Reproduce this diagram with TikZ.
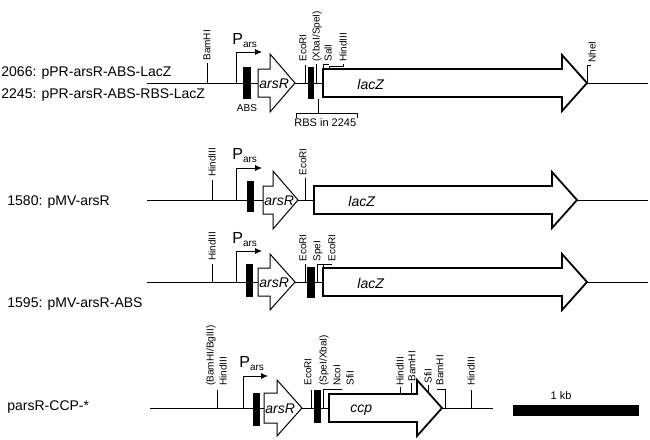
\documentclass[tikz,border=0pt]{standalone}
\usepackage{fontspec}
\setmainfont{Liberation Sans}
\usetikzlibrary{arrows.meta}
\newcommand\sitefont{\fontsize{10}{10}\selectfont}
\newcommand\namefont{\fontsize{14}{14}\selectfont}
\newcommand\Pars{{\fontsize{16}{16}\selectfont P}\raisebox{-3pt}{\fontsize{10}{10}\selectfont ars}}
\tikzset{
  site/.style={rotate=90, anchor=west, inner sep=0pt, font=\sitefont},
  genename/.style={anchor=west, inner sep=0pt, font=\namefont\itshape},
  rowname/.style={anchor=west, inner sep=0pt, font=\namefont},
  prom/.style={line width=0.8pt, -{Latex[length=7pt,width=6pt]}},
  biggene/.style={line width=1.8pt, fill=white, line join=miter},
  smallgene/.style={line width=1pt, fill=white},
}
\begin{document}
\begin{tikzpicture}[x=1pt,y=-1pt,line width=0.8pt]
				\useasboundingbox (0,0) rectangle (650,439);
				
				\node[rowname] (n2066) at (1,73) {2066: pPR-arsR-ABS-LacZ};
				\node[rowname] (n2245) at (1,95) {2245: pPR-arsR-ABS-RBS-LacZ};
				\draw[line width=1pt] (147,83) -- (648,83);
				\draw (207,83) -- (207,63);
				\node[site] (bam1) at (207,61) {BamHI};
				\draw[prom] (236,83) -- (236,52) -- (262,52);
				\node[anchor=base west, inner sep=0pt] (pars1) at (232,44) {\Pars};
				\fill (243,67) rectangle (251,99);
				\node[inner sep=0pt, font=\sitefont] (abs1) at (247,108) {ABS};
				\draw[smallgene] (258,69) -- (270,69) -- (270,54) -- (295,83) -- (270,112) -- (270,97) -- (258,97) -- cycle;
				\node[genename] (arsr1) at (259,84) {arsR};
				\draw (305,83) -- (305,65);
				\node[site] (eco1) at (303,62) {EcoRI};
				\fill (308,67) rectangle (314,99);
				\draw (316,83) -- (316,64);
				\node[site] (xba1) at (317,62) {(XbaI/SpeI)};
				\draw (323,69) -- (323,64) -- (329,64);
				\node[site] (sal1) at (328,62) {SalI};
				\draw (329,69) -- (329,66) -- (343,66) -- (343,64);
				\node[site] (hind1) at (343,62) {HindIII};
				\draw[biggene] (323,69) -- (562,69) -- (562,55) -- (587,83) -- (562,111) -- (562,97) -- (323,97) -- cycle;
				\node[genename] (lacz1) at (357,84) {lacZ};
				\draw (587,83) -- (587,65) -- (591,65);
				\node[site] (nhe1) at (592,63) {NheI};
				\draw (318,99) -- (318,113);
				\draw (296,118) -- (296,113) -- (357,113) -- (357,118);
				\node[anchor=west, inner sep=0pt, font=\fontsize{11}{11}\selectfont] (rbs) at (294,123) {RBS in 2245};
				
				\node[rowname] (n1580) at (7,202) {1580: pMV-arsR};
				\draw[line width=1pt] (147,200) -- (648,200);
				\draw (212,200) -- (212,180);
				\node[site] (hind2) at (212,177) {HindIII};
				\draw[prom] (236,200) -- (236,168) -- (262,168);
				\node[anchor=base west, inner sep=0pt] (pars2) at (232,159) {\Pars};
				\fill (247,181) rectangle (254,212);
				\draw[smallgene] (263,186) -- (273,186) -- (273,171) -- (298,200) -- (273,229) -- (273,214) -- (263,214) -- cycle;
				\node[genename] (arsr2) at (264,201) {arsR};
				\draw (305,200) -- (305,178);
				\node[site] (eco2) at (303,176) {EcoRI};
				\draw[biggene] (314,186) -- (552,186) -- (552,172) -- (577,200) -- (552,228) -- (552,214) -- (314,214) -- cycle;
				\node[genename] (lacz2) at (348,201) {lacZ};
				
				\node[rowname] (n1595) at (7,304) {1595: pMV-arsR-ABS};
				\draw[line width=1pt] (147,282) -- (648,282);
				\draw (212,282) -- (212,264);
				\node[site] (hind3) at (212,261) {HindIII};
				\draw[prom] (236,282) -- (236,251) -- (262,251);
				\node[anchor=base west, inner sep=0pt] (pars3) at (232,243) {\Pars};
				\fill (246,264) rectangle (253,297);
				\draw[smallgene] (258,268) -- (270,268) -- (270,254) -- (295,282) -- (270,310) -- (270,296) -- (258,296) -- cycle;
				\node[genename] (arsr3) at (259,283) {arsR};
				\draw (305,282) -- (305,264);
				\node[site] (eco3) at (303,262) {EcoRI};
				\fill (307,267) rectangle (315,298);
				\draw (317,282) -- (317,264) -- (323,264);
				\node[site] (spe3) at (318,262) {SpeI};
				\draw (323,268) -- (323,264) -- (332,264);
				\node[site] (eco3b) at (332,262) {EcoRI};
				\draw[biggene] (323,268) -- (562,268) -- (562,254) -- (587,282) -- (562,310) -- (562,296) -- (323,296) -- cycle;
				\node[genename] (lacz3) at (357,283) {lacZ};
				
				\node[rowname] (nccp) at (7,407) {parsR-CCP-*};
				\draw[line width=1pt] (150,408) -- (493,408);
				\draw (217,408) -- (217,390);
				\node[site] (bgl4) at (211,386) {(BamHI/BglII)};
				\node[site] (hind4) at (223,386) {HindIII};
				\draw[prom] (243,408) -- (243,376) -- (268,376);
				\node[anchor=base west, inner sep=0pt] (pars4) at (239,367) {\Pars};
				\fill (253,393) rectangle (260,426);
				\draw[smallgene] (264,393) -- (277,393) -- (277,380) -- (302,408) -- (277,436) -- (277,423) -- (264,423) -- cycle;
				\node[genename] (arsr4) at (265,409) {arsR};
				\draw (311,408) -- (311,390);
				\node[site] (eco4) at (308,386) {EcoRI};
				\fill (314,390) rectangle (321,423);
				\draw (323,408) -- (323,389) -- (342,389);
				\node[site] (spe4) at (324,386) {(SpeI/XbaI)};
				\node[site] (nco4) at (337,386) {NcoI};
				\node[site] (sfi4) at (350,386) {SfiI};
				\draw[biggene] (329,394) -- (417,394) -- (417,380) -- (442,408) -- (417,436) -- (417,422) -- (329,422) -- cycle;
				\node[genename] (ccp) at (350,410) {ccp};
				\draw (400,394) -- (400,387);
				\node[site] (hind4b) at (400,386) {HindIII};
				\draw (411,394) -- (411,383);
				\node[site] (bam4) at (412,382) {BamHI};
				\draw (428,392) -- (428,385);
				\node[site] (sfi4b) at (428,384) {SfiI};
				\draw (437,389) -- (445,389) -- (445,408);
				\node[site] (bam4b) at (440,386) {BamHI};
				\draw (471,408) -- (471,390);
				\node[site] (hind4c) at (471,386) {HindIII};
				
				\fill (513,405) rectangle (639,416);
				\node[inner sep=0pt, font=\fontsize{11}{11}\selectfont] (kb) at (561,396) {1 kb};
			\end{tikzpicture}
\end{document}
